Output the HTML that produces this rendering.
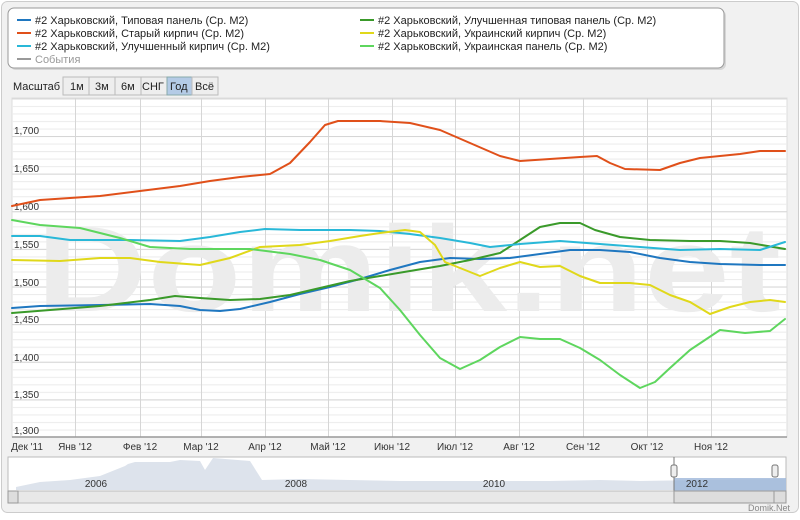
<!DOCTYPE html><html><head><meta charset="utf-8"><style>
body{margin:0;background:#fff;font-family:"Liberation Sans",sans-serif;}
</style></head><body>
<svg width="800" height="515" xmlns="http://www.w3.org/2000/svg" font-family="Liberation Sans, sans-serif">
<defs>
<pattern id="minor" patternUnits="userSpaceOnUse" x="0" y="437" width="800" height="7.525"><line x1="0" x2="800" y1="0.5" y2="0.5" stroke="#ececec" stroke-width="1"/></pattern>
<pattern id="major" patternUnits="userSpaceOnUse" x="0" y="437" width="800" height="37.625"><line x1="0" x2="800" y1="0.5" y2="0.5" stroke="#d6d6d6" stroke-width="1"/></pattern>
</defs>
<rect x="1.5" y="1.5" width="797" height="511" rx="6" fill="#f1f1f1" stroke="#ccc"/>
<rect x="10" y="10" width="716" height="60" rx="6" fill="#bbb" opacity="0.5"/>
<rect x="8" y="8" width="716" height="60" rx="6" fill="#fff" stroke="#999"/>
<g font-size="11" fill="#222">
<line x1="17" y1="20" x2="31" y2="20" stroke="#1f77c0" stroke-width="2"/><text x="35" y="24">#2 Харьковский, Типовая панель (Ср. М2)</text>
<line x1="17" y1="33" x2="31" y2="33" stroke="#e0501a" stroke-width="2"/><text x="35" y="37">#2 Харьковский, Старый кирпич (Ср. М2)</text>
<line x1="17" y1="46" x2="31" y2="46" stroke="#29b8d8" stroke-width="2"/><text x="35" y="50">#2 Харьковский, Улучшенный кирпич (Ср. М2)</text>
<line x1="17" y1="59" x2="31" y2="59" stroke="#999" stroke-width="2"/><text x="35" y="63" fill="#999">События</text>
<line x1="360" y1="20" x2="374" y2="20" stroke="#3a9a2a" stroke-width="2"/><text x="378" y="24">#2 Харьковский, Улучшенная типовая панель (Ср. М2)</text>
<line x1="360" y1="33" x2="374" y2="33" stroke="#e0d81a" stroke-width="2"/><text x="378" y="37">#2 Харьковский, Украинский кирпич (Ср. М2)</text>
<line x1="360" y1="46" x2="374" y2="46" stroke="#5ed65e" stroke-width="2"/><text x="378" y="50">#2 Харьковский, Украинская панель (Ср. М2)</text>
</g>
<text x="13" y="90" font-size="11" fill="#222">Масштаб</text>
<g font-size="11" fill="#222">
<rect x="63" y="77" width="26" height="18" fill="#eee" stroke="#bbb"/><text x="70" y="90">1м</text>
<rect x="89" y="77" width="26" height="18" fill="#eee" stroke="#bbb"/><text x="95" y="90">3м</text>
<rect x="115" y="77" width="26" height="18" fill="#eee" stroke="#bbb"/><text x="121" y="90">6м</text>
<rect x="141" y="77" width="26" height="18" fill="#eee" stroke="#bbb"/><text x="142" y="90">СНГ</text>
<rect x="167" y="77" width="25" height="18" fill="#b4cbe6" stroke="#8aa"/><text x="170" y="90">Год</text>
<rect x="192" y="77" width="26" height="18" fill="#eee" stroke="#bbb"/><text x="195" y="90">Всё</text>
</g>
<rect x="12" y="98" width="775" height="339" fill="#fff" stroke="#ddd"/>
<rect x="12" y="98" width="775" height="339" fill="url(#minor)"/>
<rect x="12" y="98" width="775" height="339" fill="url(#major)"/>
<g stroke="#d6d6d6">
<line x1="75.5" x2="75.5" y1="98" y2="437"/><line x1="140.5" x2="140.5" y1="98" y2="437"/><line x1="201.5" x2="201.5" y1="98" y2="437"/><line x1="265.5" x2="265.5" y1="98" y2="437"/><line x1="328.5" x2="328.5" y1="98" y2="437"/><line x1="392.5" x2="392.5" y1="98" y2="437"/><line x1="455.5" x2="455.5" y1="98" y2="437"/><line x1="519.5" x2="519.5" y1="98" y2="437"/><line x1="583.5" x2="583.5" y1="98" y2="437"/><line x1="647.5" x2="647.5" y1="98" y2="437"/><line x1="711.5" x2="711.5" y1="98" y2="437"/>
</g>
<text x="36" y="311" font-size="122" font-weight="bold" fill="#ececec" textLength="745" lengthAdjust="spacingAndGlyphs">Domik.net</text>
<g font-size="10" fill="#333">
<text x="14" y="134">1,700</text><text x="14" y="172">1,650</text><text x="14" y="210">1,600</text><text x="14" y="248">1,550</text><text x="14" y="286">1,500</text><text x="14" y="323">1,450</text><text x="14" y="361">1,400</text><text x="14" y="398">1,350</text><text x="14" y="434">1,300</text>
</g>
<line x1="12" y1="437" x2="787" y2="437" stroke="#999" stroke-width="1.5"/>
<g font-size="10" fill="#333" text-anchor="middle">
<text x="27" y="450">Дек '11</text><text x="75" y="450">Янв '12</text><text x="140" y="450">Фев '12</text><text x="201" y="450">Мар '12</text><text x="265" y="450">Апр '12</text><text x="328" y="450">Май '12</text><text x="392" y="450">Июн '12</text><text x="455" y="450">Июл '12</text><text x="519" y="450">Авг '12</text><text x="583" y="450">Сен '12</text><text x="647" y="450">Окт '12</text><text x="711" y="450">Ноя '12</text>
</g>
<g fill="none" stroke-width="2" stroke-linejoin="round" stroke-linecap="round">
<polyline stroke="#e0501a" points="12,206 40,200 70,198 100,196 140,191 180,186 210,181 240,177 270,174 290,163 310,142 325,125 338,121 380,121 410,123 440,130 470,143 500,156 520,161 550,159 580,157 597,156 610,163 625,169 660,170 680,163 700,158 740,154 760,151 785,151"/>
<polyline stroke="#1f77c0" points="12,308 40,306 100,305 150,304 180,306 200,310 220,311 240,309 270,302 300,294 330,287 360,279 390,270 420,262 450,258 480,259 510,258 540,254 570,250 600,250 630,252 660,258 690,262 720,264 760,265 785,265"/>
<polyline stroke="#3a9a2a" points="12,313 50,310 100,306 150,300 175,296 200,298 230,300 260,299 290,295 320,288 350,281 380,276 410,271 440,266 470,260 500,253 520,240 540,227 560,223 580,223 595,230 620,237 650,240 690,241 720,241 750,243 785,249"/>
<polyline stroke="#29b8d8" points="12,236 40,236 70,240 130,240 180,241 210,237 240,232 265,229 300,230 350,230 380,231 410,234 440,238 470,243 490,247 520,244 560,241 600,244 640,247 680,250 720,249 760,250 785,242"/>
<polyline stroke="#e0d81a" points="12,260 60,261 100,258 130,258 160,262 200,265 230,258 260,247 300,245 330,241 360,236 380,233 405,230 420,232 435,245 445,262 460,268 480,276 500,268 520,262 540,267 560,266 580,276 600,283 630,283 650,285 670,295 690,302 710,314 730,307 750,302 770,300 785,302"/>
<polyline stroke="#5ed65e" points="12,220 40,225 80,228 120,238 150,247 190,249 250,249 290,254 320,260 350,270 380,288 400,310 420,335 440,358 460,369 480,360 500,347 520,337 540,339 560,339 580,348 600,360 620,375 640,388 655,382 670,368 690,350 720,330 745,333 770,331 785,319"/>
</g>
<rect x="8" y="457" width="778" height="34" fill="#fff" stroke="#bbb"/>
<path d="M16,490 L16,487 40,482 70,480 100,476 125,466 128,464 135,462 170,462 180,460 200,461 205,470 213,458 250,461 262,480 300,479 350,480 400,481 450,481 500,481 550,481 600,480 640,481 700,480 780,479 786,479 786,490 Z" fill="#dde3ec"/>
<rect x="674" y="478" width="112" height="13" fill="#9db7d9" opacity="0.8"/>
<line x1="674" y1="457" x2="674" y2="491" stroke="#777"/>
<rect x="671" y="465" width="6" height="12" rx="2" fill="#eee" stroke="#777"/>
<rect x="772" y="465" width="6" height="12" rx="2" fill="#eee" stroke="#777"/>
<g font-size="10" fill="#333" text-anchor="middle"><text x="96" y="487">2006</text><text x="296" y="487">2008</text><text x="494" y="487">2010</text><text x="697" y="487">2012</text></g>
<rect x="8" y="491" width="778" height="12" fill="#e8e8e8" stroke="#bbb"/>
<rect x="8" y="491" width="10" height="12" fill="#ddd" stroke="#999"/>
<rect x="674" y="491" width="100" height="12" fill="#ddd" stroke="#999"/>
<rect x="774" y="491" width="12" height="12" fill="#ddd" stroke="#999"/>
<text x="790" y="511" font-size="9" fill="#888" text-anchor="end">Domik.Net</text>
</svg>
</body></html>
